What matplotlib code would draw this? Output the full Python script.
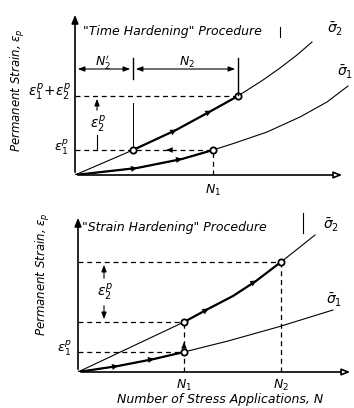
import numpy as np
import matplotlib
matplotlib.use("Agg")
import matplotlib.pyplot as plt

plt.rcParams['font.family'] = ['DejaVu Sans']
plt.rcParams['mathtext.fontset'] = 'dejavusans'

# ---- data (arbitrary units) ----
# top panel: "time hardening"
top_s2_N = [0, 58, 101, 136, 163, 188, 205, 222, 237]
top_s2_e = [0, 25, 45, 64, 79, 95, 107, 120, 133]
top_s1_N = [0, 62, 107, 138, 160, 192, 225, 252, 273]
top_s1_e = [0, 7, 16, 25, 32, 43, 58, 73, 89]
top_N1, top_N2p, top_N2end = 138, 58, 163
top_eps1, top_eps12 = 25, 79

# bottom panel: "strain hardening"
bot_s2_N = [0, 106, 130, 155, 178, 203, 222, 237]
bot_s2_e = [0, 50, 63, 76, 91, 110, 125, 137]
bot_s1_N = [0, 40, 76, 106, 150, 200, 255]
bot_s1_e = [0, 6, 13, 20, 31, 45, 62]
bot_N1, bot_N2 = 106, 203
bot_eps1, bot_eps1_s2, bot_eps12 = 20, 50, 110

W, H = 354, 408
fig = plt.figure(figsize=(W / 100, H / 100), dpi=100)
fig.patch.set_facecolor('white')

ax1 = fig.add_axes([75 / W, (H - 175) / H, 279 / W, 170 / H])
ax1.set_xlim(0, 279)
ax1.set_ylim(0, 170)
ax2 = fig.add_axes([78 / W, (H - 372) / H, 276 / W, 167 / H])
ax2.set_xlim(0, 276)
ax2.set_ylim(0, 167)
for ax in (ax1, ax2):
    ax.axis('off')

k = 'black'
thin, heavy = 0.8, 1.6
dash = dict(color=k, lw=0.9, ls=(0, (4, 3)))
txt = dict(color=k, style='italic', clip_on=False)


def axes_arrows(ax, xend, ytop):
    ax.annotate('', xy=(0, ytop), xytext=(0, 0),
                arrowprops=dict(arrowstyle='-|>,head_length=0.5,head_width=0.2', color=k, lw=1.2))
    ax.annotate('', xy=(xend, 0), xytext=(0, 0),
                arrowprops=dict(arrowstyle='-|>,head_length=0.5,head_width=0.2', color=k, lw=1.2,
                                fc='white'))


def tri(ax, x, y, x2, y2):
    ax.annotate('', xy=(x2, y2), xytext=(x, y),
                arrowprops=dict(arrowstyle='-|>,head_length=0.45,head_width=0.22', color=k, lw=0))


# ---------------- top panel ----------------
axes_arrows(ax1, 270, 163)
ax1.plot(top_s2_N, top_s2_e, color=k, lw=thin)
ax1.plot(top_s1_N, top_s1_e, color=k, lw=thin)
ax1.plot(top_s1_N[:4], top_s1_e[:4], color=k, lw=heavy)
ax1.plot(top_s2_N[1:5], top_s2_e[1:5], color=k, lw=heavy)

ax1.plot([0, top_N1], [top_eps1, top_eps1], **dash)
ax1.plot([top_N1, top_N1], [0, top_eps1], **dash)
ax1.plot([0, top_N2end], [top_eps12, top_eps12], **dash)
ax1.annotate('', xy=(88, top_eps1), xytext=(100, top_eps1),
             arrowprops=dict(arrowstyle='-|>,head_length=0.5,head_width=0.2', color=k, lw=0))

for i in (1, 2):
    tri(ax1, top_s1_N[i] - 4, top_s1_e[i] - 0.6, top_s1_N[i] + 3, top_s1_e[i] + 0.6)
for i in (2, 3):
    tri(ax1, top_s2_N[i] - 4, top_s2_e[i] - 2, top_s2_N[i] + 3, top_s2_e[i] + 1.6)
ax1.plot([top_N2p, top_N1, top_N2end], [top_eps1, top_eps1, top_eps12], 'o',
         ms=4.5, mfc='white', mec=k, mew=1.3)

# dimension lines N2', N2
ax1.annotate('', xy=(0, 106), xytext=(top_N2p, 106),
             arrowprops=dict(arrowstyle='<|-|>,head_length=0.4,head_width=0.15', color=k, lw=0.8))
ax1.annotate('', xy=(top_N2p, 106), xytext=(top_N2end, 106),
             arrowprops=dict(arrowstyle='<|-|>,head_length=0.4,head_width=0.15', color=k, lw=0.8))
ax1.plot([top_N2p, top_N2p], [96, 117], color=k, lw=1.0)
ax1.plot([top_N2p, top_N2p], [28, 72], color=k, lw=0.7)
ax1.plot([top_N2end, top_N2end], [80, 117], color=k, lw=1.0)
ax1.text(28, 113, "$N_2'$", fontsize=9, ha='center', va='center', **txt)
ax1.text(112, 113, '$N_2$', fontsize=9, ha='center', va='center', **txt)

# eps2 bracket
ax1.annotate('', xy=(22, top_eps12), xytext=(22, 62),
             arrowprops=dict(arrowstyle='-|>,head_length=0.4,head_width=0.15', color=k, lw=0.8))
ax1.plot([22, 22], [top_eps1, 40], color=k, lw=0.8)
ax1.text(23, 51, r'$\epsilon_2^p$', fontsize=10, ha='center', va='center', **txt)

ax1.text(-4, 83, r'$\epsilon_1^p\!+\!\epsilon_2^p$', fontsize=10, ha='right', va='center', **txt)
ax1.text(-6, 28, r'$\epsilon_1^p$', fontsize=9.5, ha='right', va='center', **txt)
ax1.text(top_N1, -15, '$N_1$', fontsize=9, ha='center', va='center', **txt)
ax1.text(252, 146, r'$\bar{\sigma}_2$', fontsize=10, ha='left', va='center', **txt)
ax1.text(278, 103, r'$\bar{\sigma}_1$', fontsize=10, ha='right', va='center', **txt)
ax1.text(8, 143, '"Time Hardening" Procedure', fontsize=9, ha='left', va='center', **txt)
ax1.plot([205, 205], [138, 148], color=k, lw=0.8)
ax1.text(-57, 85, r'Permanent Strain, $\epsilon_p$', fontsize=8.5, rotation=90,
         ha='center', va='center', **txt)

# ---------------- bottom panel ----------------
axes_arrows(ax2, 275, 157)
ax2.plot(bot_s2_N, bot_s2_e, color=k, lw=thin)
ax2.plot(bot_s1_N, bot_s1_e, color=k, lw=thin)
ax2.plot(bot_s1_N[:4], bot_s1_e[:4], color=k, lw=heavy)
ax2.plot(bot_s2_N[1:6], bot_s2_e[1:6], color=k, lw=heavy)

ax2.plot([0, bot_N2], [bot_eps12, bot_eps12], **dash)
ax2.plot([bot_N2, bot_N2], [0, bot_eps12], **dash)
ax2.plot([0, bot_N1], [bot_eps1_s2, bot_eps1_s2], **dash)
ax2.plot([0, bot_N1], [bot_eps1, bot_eps1], **dash)
ax2.plot([bot_N1, bot_N1], [0, bot_eps1_s2], **dash)
ax2.annotate('', xy=(bot_N1, 33), xytext=(bot_N1, 24),
             arrowprops=dict(arrowstyle='-|>,head_length=0.5,head_width=0.2', color=k, lw=0))

for i in (1, 2):
    tri(ax2, bot_s1_N[i] - 4, bot_s1_e[i] - 0.6, bot_s1_N[i] + 3, bot_s1_e[i] + 0.6)
for i in (2, 4):
    tri(ax2, bot_s2_N[i] - 4, bot_s2_e[i] - 2.2, bot_s2_N[i] + 3, bot_s2_e[i] + 1.8)
ax2.plot([bot_N1, bot_N1, bot_N2], [bot_eps1, bot_eps1_s2, bot_eps12], 'o',
         ms=4.5, mfc='white', mec=k, mew=1.3)

# eps2 bracket
ax2.annotate('', xy=(26, bot_eps12), xytext=(26, 91),
             arrowprops=dict(arrowstyle='-|>,head_length=0.4,head_width=0.15', color=k, lw=0.8))
ax2.annotate('', xy=(26, bot_eps1_s2), xytext=(26, 69),
             arrowprops=dict(arrowstyle='-|>,head_length=0.4,head_width=0.15', color=k, lw=0.8))
ax2.text(27, 80, r'$\epsilon_2^p$', fontsize=10, ha='center', va='center', **txt)

ax2.text(-6, 24, r'$\epsilon_1^p$', fontsize=9.5, ha='right', va='center', **txt)
ax2.text(bot_N1, -13, '$N_1$', fontsize=9, ha='center', va='center', **txt)
ax2.text(bot_N2, -13, '$N_2$', fontsize=9, ha='center', va='center', **txt)
ax2.text(142, -28, 'Number of Stress Applications, N', fontsize=9, ha='center', va='center', **txt)
ax2.text(245, 147, r'$\bar{\sigma}_2$', fontsize=10, ha='left', va='center', **txt)
ax2.text(248, 72, r'$\bar{\sigma}_1$', fontsize=10, ha='left', va='center', **txt)
ax2.text(4, 144, '"Strain Hardening" Procedure', fontsize=9, ha='left', va='center', **txt)
ax2.plot([225, 225], [139, 159], color=k, lw=0.8)
ax2.text(-35, 98, r'Permanent Strain, $\epsilon_p$', fontsize=8.5, rotation=90,
         ha='center', va='center', **txt)

fig.savefig('out.png', dpi=100)
